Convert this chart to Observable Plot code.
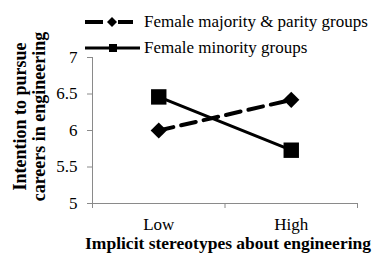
<!DOCTYPE html>
<html>
<head>
<meta charset="utf-8">
<script src="https://cdn.jsdelivr.net/npm/d3@7"></script>
<script src="https://cdn.jsdelivr.net/npm/@observablehq/plot@0.6"></script>
<style>
  html, body { margin: 0; padding: 0; background: #fff; }
  #wrap { position: relative; width: 374px; height: 255px; font-family: "Liberation Serif", "Times New Roman", serif; }
  #legend { position: absolute; left: 85px; top: 10px; font-size: 17px; color: #000; }
  .row { display: flex; align-items: center; height: 24px; }
  .row svg { display: block; flex: none; }
  .row span { margin-left: 3px; white-space: nowrap; }
</style>
</head>
<body>
<div id="wrap"><div id="legend"></div></div>
<script>
const categories = ["Low", "High"];
const seriesNames = ["Female majority & parity groups", "Female minority groups"];
const majorityValues = [6.0, 6.42];
const minorityValues = [6.46, 5.73];
const yTicks = [5, 5.5, 6, 6.5, 7];
const xTitle = "Implicit stereotypes about engineering";
const yTitleLines = ["Intention to pursue", "careers in engineering"];

const rows = [];
categories.forEach((c, i) => {
  rows.push({series: seriesNames[0], pos: i + 0.5, value: majorityValues[i]});
  rows.push({series: seriesNames[1], pos: i + 0.5, value: minorityValues[i]});
});
const maj = rows.filter(d => d.series === seriesNames[0]);
const min = rows.filter(d => d.series === seriesNames[1]);
const bounds = d3.range(categories.length + 1);
const yMin = yTicks[0], yMax = yTicks[yTicks.length - 1];

const chart = Plot.plot({
  width: 374,
  height: 255,
  marginLeft: 92,
  marginRight: 17,
  marginTop: 57,
  marginBottom: 52,
  x: {domain: [0, categories.length], axis: null},
  y: {domain: [yMin, yMax], axis: null},
  style: {fontFamily: "'Liberation Serif', 'Times New Roman', serif", fontSize: "17px", color: "#000", background: "#fff", overflow: "visible"},
  marks: [
    // axis lines
    Plot.ruleX([0], {y1: yMin, y2: yMax, stroke: "#8a8a8a", strokeWidth: 1}),
    Plot.ruleY([yMin], {x1: 0, x2: categories.length, stroke: "#8a8a8a", strokeWidth: 1}),
    // y ticks
    Plot.ruleY(yTicks, {x1: 0, x2: 0, insetLeft: -5, stroke: "#8a8a8a"}),
    Plot.text(yTicks, {x: 0, y: d => d, text: d => String(d), textAnchor: "end", dx: -15, fontSize: 17}),
    // x ticks at band boundaries
    Plot.ruleX(bounds, {y1: yMin, y2: yMin, insetBottom: -5, stroke: "#8a8a8a"}),
    Plot.text(categories, {x: (d, i) => i + 0.5, y: yMin, dy: 21, text: d => d, fontSize: 17}),
    // series lines
    Plot.line(maj, {x: "pos", y: "value", stroke: "#000", strokeWidth: 4, strokeDasharray: "15,8"}),
    Plot.line(min, {x: "pos", y: "value", stroke: "#000", strokeWidth: 3}),
    Plot.dot(maj, {x: "pos", y: "value", symbol: "diamond2", r: 7.3, fill: "#000", stroke: "none"}),
    Plot.dot(min, {x: "pos", y: "value", symbol: "square", r: 8.7, fill: "#000", stroke: "none"}),
    // axis titles
    Plot.text([xTitle], {frameAnchor: "bottom", textAnchor: "middle", dx: 3, dy: 45, text: d => d, fontWeight: "bold", fontSize: 17.5}),
    Plot.text([yTitleLines[0]], {frameAnchor: "left", textAnchor: "middle", rotate: -90, dx: -72, dy: -14, text: d => d, fontWeight: "bold", fontSize: 18}),
    Plot.text([yTitleLines[1]], {frameAnchor: "left", textAnchor: "middle", rotate: -90, dx: -53, dy: -14, text: d => d, fontWeight: "bold", fontSize: 18})
  ]
});
const wrap = document.getElementById("wrap");
chart.style.position = "absolute";
chart.style.left = "0";
chart.style.top = "0";
wrap.insertBefore(chart, wrap.firstChild);

// legend
const legend = document.getElementById("legend");
const symbols = [
  `<svg width="56" height="20"><line x1="0" y1="10" x2="18" y2="10" stroke="#000" stroke-width="4"/><line x1="33" y1="10" x2="48" y2="10" stroke="#000" stroke-width="4"/><path d="M27,5 L32,10 L27,15 L22,10 Z" fill="#000"/></svg>`,
  `<svg width="56" height="20"><line x1="0" y1="10" x2="55" y2="10" stroke="#000" stroke-width="3"/><rect x="24" y="6" width="8" height="8" fill="#000"/></svg>`
];
seriesNames.forEach((name, i) => {
  const row = document.createElement("div");
  row.className = "row";
  row.innerHTML = symbols[i] + `<span>${name}</span>`;
  if (i === 0) row.style.marginBottom = "2px";
  legend.appendChild(row);
});
</script>
</body>
</html>
